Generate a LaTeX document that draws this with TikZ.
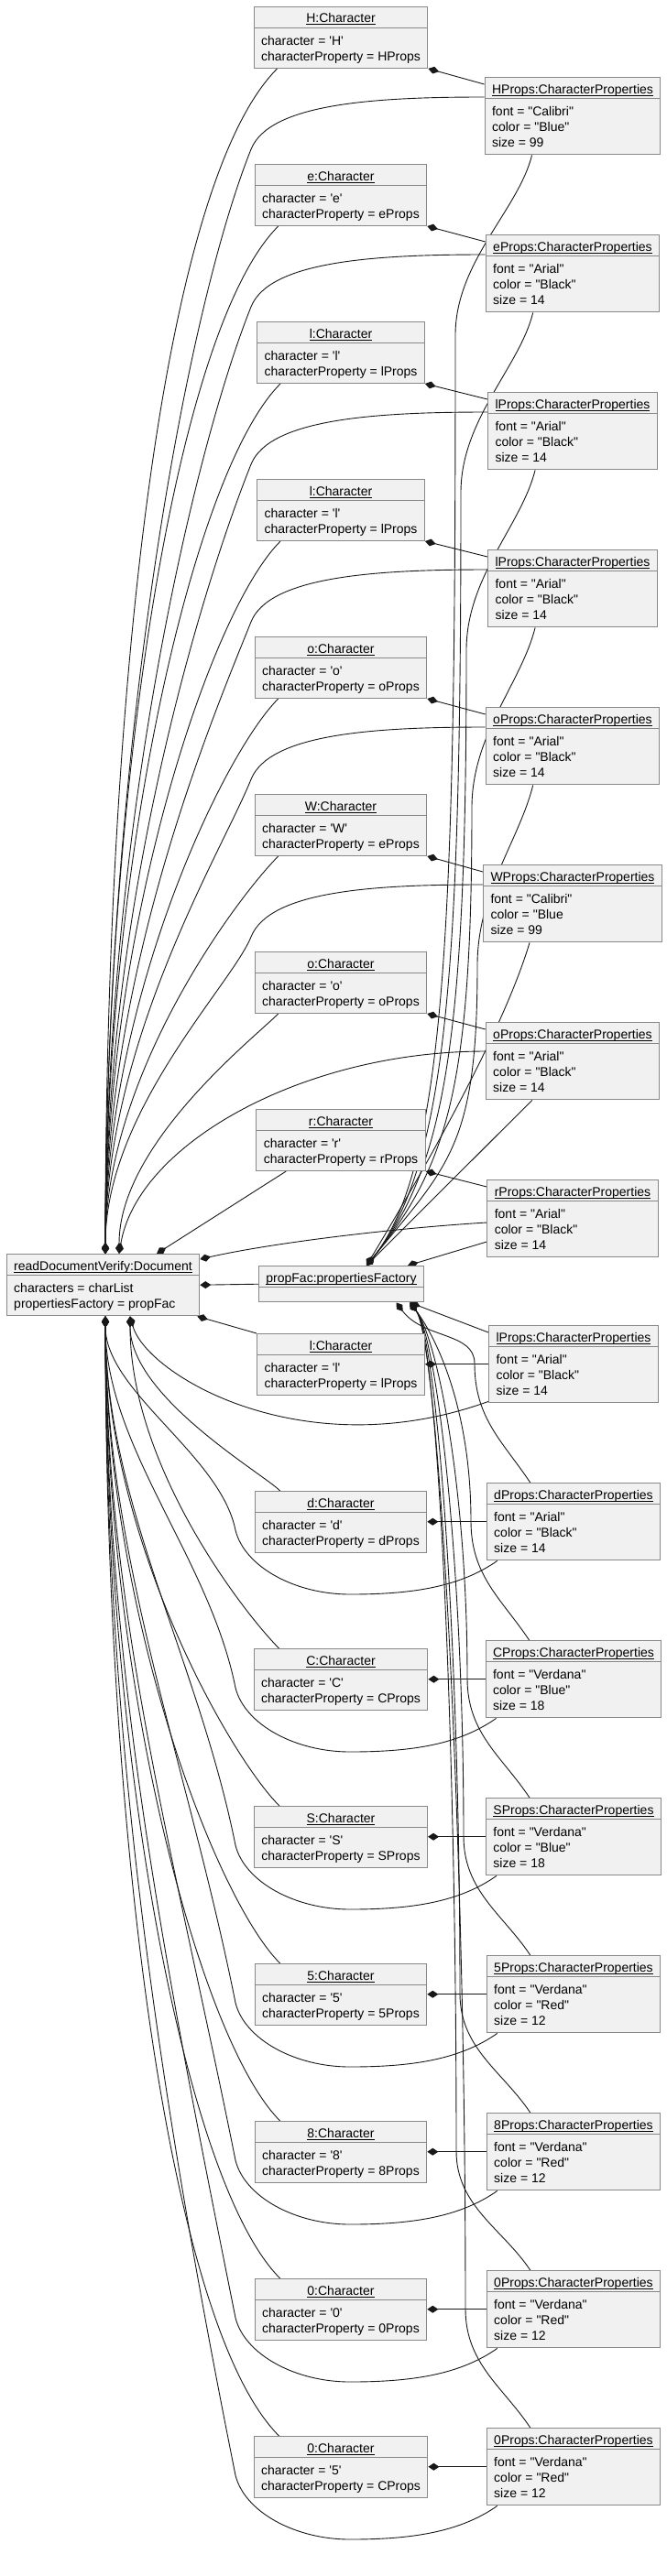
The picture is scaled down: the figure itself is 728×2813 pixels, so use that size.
\documentclass[tikz,border=0pt]{standalone}
\usepackage{fontspec}
\setmainfont{Liberation Sans}[Ligatures=TeXOff]
\usetikzlibrary{arrows.meta,shapes.multipart,backgrounds}
\definecolor{objfill}{HTML}{F1F1F1}
\definecolor{objline}{HTML}{888888}
\definecolor{lnclr}{HTML}{181818}
\newcommand{\objtitle}[1]{\sbox0{#1}\rule[-2.5pt]{0pt}{17pt}\rlap{\rule[-2.4pt]{\wd0}{0.9pt}}\usebox0}
\newcommand{\firstln}{\rule{0pt}{15.9pt}}
\newcommand{\lastln}{\rule[-5.1pt]{0pt}{5.1pt}}
\tikzset{
  obj/.style={rectangle split, rectangle split parts=2, rectangle split part align={center,left}, align=left, draw=objline, fill=objfill, line width=1pt, font=\fontsize{14}{17}\selectfont, inner xsep=8pt, inner ysep=2.5pt, anchor=north},
  comp/.style={{Diamond[length=12pt,width=8pt]}-, draw=lnclr, line width=0.9pt},
}

\begin{document}
\begin{tikzpicture}[x=1pt,y=-1pt]
\useasboundingbox (0,0) rectangle (728,2813);
\node[obj] (ch0) at (372,7) {\objtitle{H:Character}\nodepart{two}\firstln character = 'H'\\characterProperty = HProps\lastln};
\node[obj] (ch1) at (372,179) {\objtitle{e:Character}\nodepart{two}\firstln character = 'e'\\characterProperty = eProps\lastln};
\node[obj] (ch2) at (372,351) {\objtitle{l:Character}\nodepart{two}\firstln character = 'l'\\characterProperty = lProps\lastln};
\node[obj] (ch3) at (372,523) {\objtitle{l:Character}\nodepart{two}\firstln character = 'l'\\characterProperty = lProps\lastln};
\node[obj] (ch4) at (372,695) {\objtitle{o:Character}\nodepart{two}\firstln character = 'o'\\characterProperty = oProps\lastln};
\node[obj] (ch5) at (372,867) {\objtitle{W:Character}\nodepart{two}\firstln character = 'W'\\characterProperty = eProps\lastln};
\node[obj] (ch6) at (372,1039) {\objtitle{o:Character}\nodepart{two}\firstln character = 'o'\\characterProperty = oProps\lastln};
\node[obj] (ch7) at (372,1211) {\objtitle{r:Character}\nodepart{two}\firstln character = 'r'\\characterProperty = rProps\lastln};
\node[obj] (ch8) at (372,1456) {\objtitle{l:Character}\nodepart{two}\firstln character = 'l'\\characterProperty = lProps\lastln};
\node[obj] (ch9) at (372,1628) {\objtitle{d:Character}\nodepart{two}\firstln character = 'd'\\characterProperty = dProps\lastln};
\node[obj] (ch10) at (372,1800) {\objtitle{C:Character}\nodepart{two}\firstln character = 'C'\\characterProperty = CProps\lastln};
\node[obj] (ch11) at (372,1972) {\objtitle{S:Character}\nodepart{two}\firstln character = 'S'\\characterProperty = SProps\lastln};
\node[obj] (ch12) at (372,2144) {\objtitle{5:Character}\nodepart{two}\firstln character = '5'\\characterProperty = 5Props\lastln};
\node[obj] (ch13) at (372,2316) {\objtitle{8:Character}\nodepart{two}\firstln character = '8'\\characterProperty = 8Props\lastln};
\node[obj] (ch14) at (372,2488) {\objtitle{0:Character}\nodepart{two}\firstln character = '0'\\characterProperty = 0Props\lastln};
\node[obj] (ch15) at (372,2660) {\objtitle{0:Character}\nodepart{two}\firstln character = '5'\\characterProperty = CProps\lastln};
\node[obj] (pr0) at (625,84) {\objtitle{HProps:CharacterProperties}\nodepart{two}\firstln font = "Calibri"\\color = "Blue"\\size = 99\lastln};
\node[obj] (pr1) at (625,256) {\objtitle{eProps:CharacterProperties}\nodepart{two}\firstln font = "Arial"\\color = "Black"\\size = 14\lastln};
\node[obj] (pr2) at (625,428) {\objtitle{lProps:CharacterProperties}\nodepart{two}\firstln font = "Arial"\\color = "Black"\\size = 14\lastln};
\node[obj] (pr3) at (625,600) {\objtitle{lProps:CharacterProperties}\nodepart{two}\firstln font = "Arial"\\color = "Black"\\size = 14\lastln};
\node[obj] (pr4) at (625,772) {\objtitle{oProps:CharacterProperties}\nodepart{two}\firstln font = "Arial"\\color = "Black"\\size = 14\lastln};
\node[obj] (pr5) at (625,944) {\objtitle{WProps:CharacterProperties}\nodepart{two}\firstln font = "Calibri"\\color = "Blue\\size = 99\lastln};
\node[obj] (pr6) at (625,1116) {\objtitle{oProps:CharacterProperties}\nodepart{two}\firstln font = "Arial"\\color = "Black"\\size = 14\lastln};
\node[obj] (pr7) at (625,1288) {\objtitle{rProps:CharacterProperties}\nodepart{two}\firstln font = "Arial"\\color = "Black"\\size = 14\lastln};
\node[obj] (pr8) at (626,1447) {\objtitle{lProps:CharacterProperties}\nodepart{two}\firstln font = "Arial"\\color = "Black"\\size = 14\lastln};
\node[obj] (pr9) at (626,1619) {\objtitle{dProps:CharacterProperties}\nodepart{two}\firstln font = "Arial"\\color = "Black"\\size = 14\lastln};
\node[obj] (pr10) at (626,1791) {\objtitle{CProps:CharacterProperties}\nodepart{two}\firstln font = "Verdana"\\color = "Blue"\\size = 18\lastln};
\node[obj] (pr11) at (626,1963) {\objtitle{SProps:CharacterProperties}\nodepart{two}\firstln font = "Verdana"\\color = "Blue"\\size = 18\lastln};
\node[obj] (pr12) at (626,2135) {\objtitle{5Props:CharacterProperties}\nodepart{two}\firstln font = "Verdana"\\color = "Red"\\size = 12\lastln};
\node[obj] (pr13) at (626,2307) {\objtitle{8Props:CharacterProperties}\nodepart{two}\firstln font = "Verdana"\\color = "Red"\\size = 12\lastln};
\node[obj] (pr14) at (626,2479) {\objtitle{0Props:CharacterProperties}\nodepart{two}\firstln font = "Verdana"\\color = "Red"\\size = 12\lastln};
\node[obj] (pr15) at (626,2651) {\objtitle{0Props:CharacterProperties}\nodepart{two}\firstln font = "Verdana"\\color = "Red"\\size = 12\lastln};
\node[obj] (doc) at (112.5,1369) {\objtitle{readDocumentVerify:Document}\nodepart{two}\firstln characters = charList\\propertiesFactory = propFac\lastln};
\node[obj] (pf) at (372.5,1382) {\objtitle{propFac:propertiesFactory}\nodepart{two}\rule{0pt}{10pt}};

\begin{scope}[on background layer]
\foreach \i in {0,...,7}
  \draw[comp] (ch\i.south east) -- ([yshift=-8pt]pr\i.north west);
\foreach \i in {8,...,15}
  \draw[comp] (ch\i.east |- pr\i.west) -- (pr\i.west);
\draw[comp] (doc.east) -- (pf.west);

\foreach \i/\dx in {0/2.5,1/2.5,2/2.5,3/2.5,4/2.5,5/2.5,6/17.5} {
  \pgfmathsetmacro\h{1298-172*\i}
  \draw[comp] ([xshift=\dx pt]doc.north) .. controls +(0,{-0.45*\h}) and +({-0.1*\h},{0.1*\h}) .. ([xshift=26pt]ch\i.south west);
}
\draw[comp] ([xshift=58.5pt]doc.north) -- ([xshift=33pt]ch7.south west);

\foreach \i in {0,...,5} {
  \pgfmathsetmacro\yb{163+172*\i}
  \pgfmathsetmacro\h{1369-\yb}
  \draw[comp] ([xshift=2.5pt]doc.north) .. controls +(0,{-0.45*\h}) and +({-0.06*\h},{0.15*\h}) .. (274,\yb) .. controls +(20,-50) and +(-120,0) .. ([yshift=-22pt]pr\i.north west);
}
\draw[comp] ([xshift=17.5pt]doc.north) .. controls +(20,-119) and +(-200,0) .. ([yshift=-32pt]pr6.north west);
\draw[comp] ([yshift=-6pt]doc.north east) .. controls +(80,-18) and +(-100,6) .. ([yshift=-47pt]pr7.north west);

\foreach \i/\xc in {0/497,1/503,2/509,3/515,4/521} {
  \pgfmathsetmacro\yw{366+172*\i}
  \pgfmathsetmacro\L{1382-\yw}
  \draw[comp] ([xshift=27.5pt]pf.north) .. controls +(90,-110) and +(0,{0.6*\L}) .. (\xc,\yw) .. controls +(0,-80) and +(-15,60) .. ([xshift=52pt]pr\i.south west);
}
\draw[comp] ([xshift=27.5pt]pf.north) .. controls +(60,-100) and +(-30,100) .. ([xshift=51pt]pr5.south west);
\draw[comp] ([xshift=27.5pt]pf.north) -- ([xshift=51pt]pr6.south west);
\draw[comp] ([xshift=72.5pt]pf.north) -- ([yshift=-68pt]pr7.north west);

\draw[comp] ([xshift=-3pt]doc.south east) -- (ch8.north west);
\foreach \i/\dx in {9/29.5,10/29.5,11/2.5,12/2.5,13/2.5,14/2.5,15/2.5} {
  \pgfmathsetmacro\h{1456+172*(\i-8)-1433}
  \draw[comp] ([xshift=\dx pt]doc.south) .. controls +(0,{0.45*\h}) and +({-0.1*\h},{-0.1*\h}) .. ([xshift=28pt]ch\i.north west);
}

\draw[comp] ([xshift=29.5pt]doc.south) .. controls +(18,64) and +(-202,73) .. ([yshift=2pt]pr8.south west);
\foreach \i in {9,...,15} {
  \pgfmathsetmacro\yb{1529+172*(\i-8)}
  \pgfmathsetmacro\L{\yb-30-1436}
  \draw[comp] ([xshift=2.5pt]doc.south) .. controls +(0,{0.35*\L}) and +({-0.07*\L},{-0.35*\L}) .. (257,{\yb-30}) .. controls +(10,40) and +(-60,0) .. (382,{\yb+40}) .. controls +(70,0) and +(-40,28) .. ([xshift=12pt]pr\i.south west);
}

\draw[comp] ([xshift=75pt]pf.south) -- ([yshift=-8pt]pr8.north west);
\foreach \i/\dx/\xc in {9/60/518,10/75/514,11/75/510,12/75/506,13/75/502,14/75/498,15/75/508} {
  \pgfmathsetmacro\yw{1447+172*(\i-8)-130}
  \pgfmathsetmacro\L{\yw-1420}
  \draw[comp] ([xshift=\dx pt]pf.south) .. controls +(30,40) and +(0,{-0.5*\L}) .. (\xc,\yw) .. controls +(0,60) and +(-30,-45) .. ([xshift=48pt]pr\i.north west);
}
\end{scope}
\end{tikzpicture}
\end{document}
